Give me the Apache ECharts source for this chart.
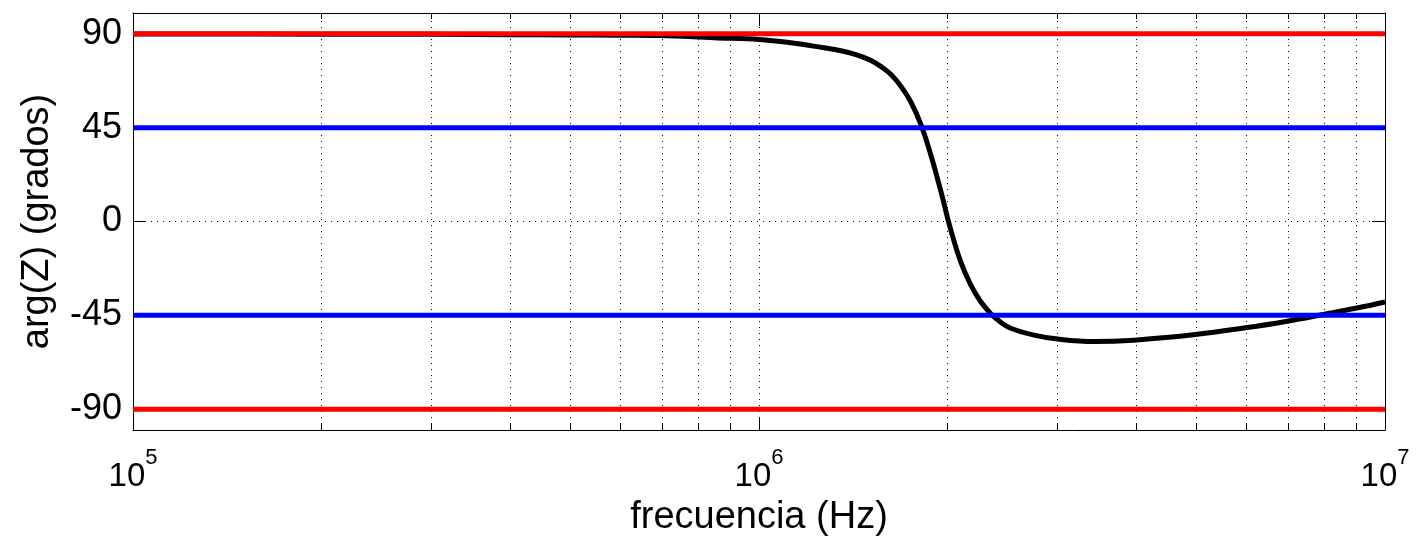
<!DOCTYPE html>
<html>
<head>
<meta charset="utf-8">
<script src="https://cdn.jsdelivr.net/npm/echarts@6/dist/echarts.min.js"></script>
<style>
  html, body { margin: 0; padding: 0; background: #fff; }
  #chart { width: 1419px; height: 542px; }
</style>
</head>
<body>
<div id="chart"></div>
<script>
// frecuencia (Hz) y fase de Z (grados)
const freqHz = [
  1e5, 2e5, 3e5, 4e5, 5e5, 6e5, 6.97e5, 8.47e5, 1e6,
  1.125e6, 1.27e6, 1.352e6, 1.403e6, 1.4556e6, 1.51e6, 1.5668e6, 1.6252e6, 1.6859e6, 1.749e6, 1.8143e6,
  1.8821e6, 1.9524e6, 2.0254e6, 2.1011e6, 2.1797e6, 2.2611e6, 2.3457e6, 2.4334e6, 2.5243e6,
  2.75e6, 3.0e6, 3.43e6, 3.97e6, 4.94e6, 5.98e6, 6.98e6, 7.97e6, 9.02e6, 1e7
];
const phaseDeg = [
  89.95, 89.85, 89.75, 89.6, 89.5, 89.35, 89.2, 88.1, 87.3,
  85.7, 83.3, 81.9, 80.7, 79.2, 77.2, 74.3, 70.5, 64.8, 57.2, 46.5,
  31.8, 14.4, -4.2, -19.5, -30.5, -38.5, -44.2, -48.3, -51.2,
  -54.5, -56.4, -57.6, -56.9, -54.3, -51.0, -47.8, -44.6, -41.5, -38.6
];

const xMin = 1e5, xMax = 1e7;
const yTicks = [-90, -45, 0, 45, 90];
const minorFreqs = [2e5, 3e5, 4e5, 5e5, 6e5, 7e5, 8e5, 9e5, 2e6, 3e6, 4e6, 5e6, 6e6, 7e6, 8e6, 9e6];
const gridFreqs = minorFreqs.concat([1e6]);
const redLevels = [90, -90];
const blueLevels = [45, -45];

const FONT = 'Liberation Sans, Arial, Helvetica, sans-serif';

const chart = echarts.init(document.getElementById('chart'));

const levelSeries = (level, color) => ({
  type: 'line',
  data: [[xMin, level], [xMax, level]],
  symbol: 'none',
  lineStyle: { color: color, width: 5 },
  z: 7,
  silent: true
});

const baseX = {
  type: 'log', logBase: 10, min: xMin, max: xMax,
  gridIndex: 0,
  splitLine: { show: false }
};

const option = {
  animation: false,
  backgroundColor: '#fff',
  grid: { left: 133, right: 34, top: 13, bottom: 112, containLabel: false, outerBoundsMode: 'none' },
  xAxis: [
    {
      ...baseX,
      position: 'bottom',
      name: 'frecuencia (Hz)',
      nameLocation: 'middle',
      nameGap: 69,
      nameTextStyle: { fontFamily: FONT, fontSize: 38, color: '#000' },
      axisLine: { show: true, onZero: false, lineStyle: { color: '#000', width: 1 } },
      axisTick: { show: true, inside: true, length: 13, lineStyle: { color: '#000' } },
      axisLabel: {
        margin: 17,
        formatter: v => '{b|10}{s|' + Math.round(Math.log10(v)) + '}',
        rich: {
          b: { fontFamily: FONT, fontSize: 33, color: '#000', lineHeight: 46, verticalAlign: 'bottom' },
          s: { fontFamily: FONT, fontSize: 22, color: '#000', lineHeight: 46, verticalAlign: 'top' }
        }
      }
    },
    {
      ...baseX,
      position: 'bottom',
      axisLine: { show: false, onZero: false },
      axisTick: { show: true, inside: true, length: 6, customValues: minorFreqs, lineStyle: { color: '#000' } },
      axisLabel: { show: false }
    },
    {
      ...baseX,
      position: 'top',
      axisLine: { show: true, onZero: false, lineStyle: { color: '#000', width: 1 } },
      axisTick: { show: true, inside: true, length: 13, lineStyle: { color: '#000' } },
      axisLabel: { show: false }
    },
    {
      ...baseX,
      position: 'top',
      axisLine: { show: false, onZero: false },
      axisTick: { show: true, inside: true, length: 6, customValues: minorFreqs, lineStyle: { color: '#000' } },
      axisLabel: { show: false }
    }
  ],
  yAxis: [
    {
      type: 'value', min: -100, max: 100,
      position: 'left',
      name: 'arg(Z) (grados)',
      nameLocation: 'middle',
      nameGap: 76,
      nameTextStyle: { fontFamily: FONT, fontSize: 38, color: '#000' },
      axisLine: { show: true, onZero: false, lineStyle: { color: '#000', width: 1 } },
      axisTick: { show: true, inside: true, length: 13, customValues: yTicks, lineStyle: { color: '#000' } },
      axisLabel: { customValues: yTicks, margin: 11, fontFamily: FONT, fontSize: 36, color: '#000' },
      splitLine: { show: false }
    },
    {
      type: 'value', min: -100, max: 100,
      position: 'right',
      axisLine: { show: true, onZero: false, lineStyle: { color: '#000', width: 1 } },
      axisTick: { show: true, inside: true, length: 13, customValues: yTicks, lineStyle: { color: '#000' } },
      axisLabel: { show: false },
      splitLine: { show: false }
    }
  ],
  series: [
    {
      // rejilla punteada
      type: 'line',
      data: [[xMin, 0]],
      symbol: 'none',
      lineStyle: { width: 0 },
      z: 1,
      silent: true,
      markLine: {
        z: 1,
        silent: true,
        symbol: 'none',
        label: { show: false },
        lineStyle: { color: '#000', width: 1, type: [1, 5] },
        data: gridFreqs.map(f => ({ xAxis: f })).concat(yTicks.map(v => ({ yAxis: v })))
      }
    },
    {
      type: 'line',
      data: freqHz.map((f, i) => [f, phaseDeg[i]]),
      symbol: 'none',
      smooth: 0.4,
      lineStyle: { color: '#000', width: 5 },
      z: 6,
      silent: true
    },
    ...redLevels.map(l => levelSeries(l, '#ff0000')),
    ...blueLevels.map(l => levelSeries(l, '#0000ff'))
  ]
};

chart.setOption(option);
</script>
</body>
</html>
